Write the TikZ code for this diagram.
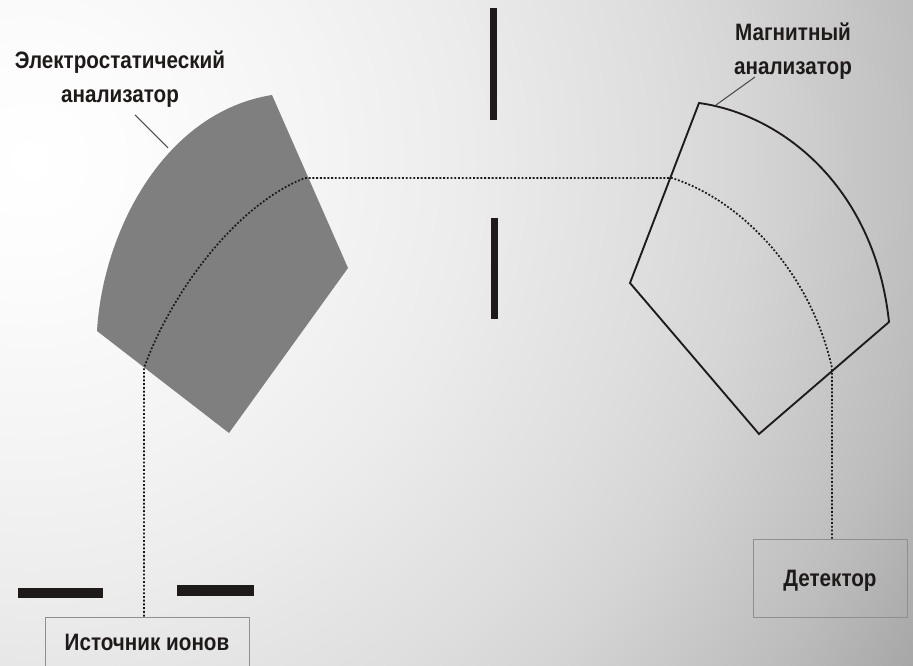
\documentclass[tikz,border=0pt]{standalone}
\usepackage{fontspec}
\usepackage{graphicx}
\setmainfont{Liberation Sans}
\pgfdeclareradialshading{bgglow}{\pgfpoint{0bp}{0bp}}{%
  color(0bp)=(white);
  color(4.5bp)=(black!1);
  color(13.6bp)=(black!4.5);
  color(20bp)=(black!7.5);
  color(28.5bp)=(black!13);
  color(32.8bp)=(black!16.5);
  color(40.9bp)=(black!26);
  color(46.4bp)=(black!35);
  color(50bp)=(black!39)}
\definecolor{inkc}{HTML}{1E1A1A}
\definecolor{sectc}{HTML}{7F7F7F}
\definecolor{boxc}{HTML}{8F8F8F}
\tikzset{
  lbl/.style={font=\fontsize{17.8pt}{25pt}\selectfont\bfseries, text=inkc, align=center, inner sep=0pt, xscale=0.87, transform shape},
  boxnode/.style={draw=boxc, line width=0.7pt, inner sep=0pt, fill=none},
  slit/.style={fill=inkc, draw=none},
  beam/.style={draw=inkc, line width=1.3pt, dash pattern=on 1.4pt off 1.4pt},
  leader/.style={draw=black!70, line width=0.8pt},
  magnet/.style={draw=inkc, line width=1.4pt, line join=miter}
}
\begin{document}
\begin{tikzpicture}[x=0.75pt,y=-0.75pt]
\useasboundingbox (0,0) rectangle (913,666);
\clip (0,0) rectangle (913,666);
\node[inner sep=0pt, outer sep=0pt] (glow) at (30,160) {\scalebox{16.44}{\pgfuseshading{bgglow}}};
% coordinates
\coordinate (ea) at (272,95);
\coordinate (eb) at (348,268);
\coordinate (ec) at (229,433);
\coordinate (ed) at (97,331);
\coordinate (ma) at (699,103);
\coordinate (mb) at (630,283);
\coordinate (mc) at (759,434);
\coordinate (md) at (889,322);
\coordinate (b1) at (144,368);
\coordinate (b2) at (305,178);
\coordinate (b3) at (672,178);
\coordinate (b4) at (832,368);
\coordinate (l1a) at (135,115);
\coordinate (l1b) at (168,148);
\coordinate (l2a) at (755,77);
\coordinate (l2b) at (716,105);
% sectors
\fill[sectc] (ed) .. controls (103,230) and (165,112) .. (ea) -- (eb) -- (ec) -- cycle;
\draw[magnet] (ma) .. controls (785,115) and (875,190) .. (md) -- (mc) -- (mb) -- cycle;
% slits
\fill[slit] (490,8) rectangle (497,120);
\fill[slit] (491,218) rectangle (498,319);
\fill[slit] (18,588) rectangle (103,598);
\fill[slit] (177,585) rectangle (254,596);
% boxes
\node[boxnode, minimum width=153pt, minimum height=42pt] (src) at (147,645) {};
\node[boxnode, minimum width=115.5pt, minimum height=58.5pt] (det) at (830,578) {};
\node[lbl] (srcl) at (147,642) {Источник ионов};
\node[lbl] (detl) at (830,581) {Детектор};
% labels
\node[lbl] (el) at (120,79) {Электростатический\\анализатор};
\node[lbl] (ml) at (793,51) {Магнитный\\анализатор};
% leaders
\draw[leader] (l1a) -- (l1b);
\draw[leader] (l2a) -- (l2b);
% beam
\draw[beam] (src.north -| b1) -- (b1) .. controls (170,295) and (235,205) .. (b2) -- (b3) .. controls (740,200) and (810,270) .. (b4) -- (det.north -| b4);
\end{tikzpicture}
\end{document}
